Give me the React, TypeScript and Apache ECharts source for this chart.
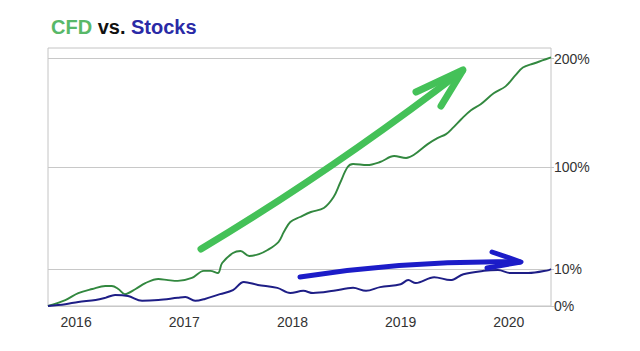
import React, { useEffect, useRef } from "react";
import * as echarts from "echarts";

// Decimal-year positions and percentage returns
const cfdYears = [
  2015.74, 2015.9, 2016.02, 2016.15, 2016.27, 2016.33, 2016.39, 2016.45, 2016.55, 2016.64,
  2016.76, 2016.85, 2016.94, 2017.07, 2017.18, 2017.24, 2017.31, 2017.35, 2017.45, 2017.52,
  2017.6, 2017.69, 2017.77, 2017.87, 2017.92, 2017.98, 2018.07, 2018.17, 2018.29, 2018.38,
  2018.44, 2018.51, 2018.56, 2018.69, 2018.81, 2018.94, 2019.05, 2019.12, 2019.25, 2019.34,
  2019.42, 2019.48, 2019.56, 2019.65, 2019.74, 2019.86, 2019.97, 2020.06, 2020.13, 2020.23,
  2020.31, 2020.39,
];
const cfdValues = [
  0, 1.6, 3.5, 4.6, 5.4, 5.4, 4.6, 3.2, 4.6, 6.2,
  7.3, 7.0, 6.8, 7.6, 9.5, 9.5, 8.9, 15.3, 24.1, 25.9,
  21.5, 23.2, 26.8, 33.8, 42.6, 51.5, 55.9, 60.3, 63.8, 73.5,
  85.9, 100, 102.8, 101.8, 104.6, 110.1, 108.3, 111, 121.1, 126.6,
  130.3, 135.8, 144, 152.3, 157.8, 167.9, 174.3, 184.4, 191.7, 195.4,
  198.2, 201,
];
const stockYears = [
  2015.74, 2015.9, 2016.02, 2016.18, 2016.27, 2016.36, 2016.48, 2016.61, 2016.76, 2016.94,
  2017.01, 2017.1, 2017.19, 2017.33, 2017.45, 2017.55, 2017.68, 2017.86, 2017.98, 2018.1,
  2018.19, 2018.38, 2018.56, 2018.68, 2018.81, 2019.0, 2019.07, 2019.14, 2019.31, 2019.46,
  2019.58, 2019.77, 2019.9, 2020.02, 2020.18, 2020.37, 2020.39,
];
const stockValues = [
  0, 0.5, 1.1, 1.6, 2.2, 3.0, 2.7, 1.4, 1.6, 2.2,
  2.4, 1.4, 1.9, 3.2, 4.3, 6.5, 5.7, 4.9, 3.5, 4.1,
  3.5, 4.1, 4.9, 4.1, 5.1, 5.9, 7.0, 6.2, 7.8, 7.0,
  8.6, 9.5, 9.7, 8.9, 8.9, 9.7, 10,
];
const yearTicks = [2016, 2017, 2018, 2019, 2020];
const pctTicks = [0, 10, 100, 200];

// The chart's y axis is a non-uniform scale: each tick gets its own span
const pctAxisPos = [0, 37, 139, 247.5];
const AXIS_MAX = 258;

function toAxis(p: number): number {
  for (let i = 1; i < pctTicks.length; i++) {
    if (p <= pctTicks[i] || i === pctTicks.length - 1) {
      const a = pctTicks[i - 1], b = pctTicks[i];
      const pa = pctAxisPos[i - 1], pb = pctAxisPos[i];
      return pa + ((p - a) / (b - a)) * (pb - pa);
    }
  }
  return 0;
}

const FONT = 'Arial, "Liberation Sans", sans-serif';

export default function App() {
  const ref = useRef<HTMLDivElement>(null);
  useEffect(() => {
    if (!ref.current) return;
    const chart = echarts.init(ref.current, null, { renderer: "svg" });
    const tickPos = pctTicks.map(toAxis);
    chart.setOption({
      animation: false,
      backgroundColor: "#fff",
      title: {
        text: "{g|CFD} {k|vs.} {b|Stocks}",
        left: 46,
        top: 12,
        textStyle: {
          fontFamily: FONT,
          fontSize: 20,
          fontWeight: "bold",
          rich: {
            g: { color: "#58b868", fontSize: 20, fontWeight: "bold", fontFamily: FONT },
            k: { color: "#111", fontSize: 20, fontWeight: "bold", fontFamily: FONT },
            b: { color: "#2a2aa6", fontSize: 20, fontWeight: "bold", fontFamily: FONT },
          },
        },
      },
      grid: {
        left: 48,
        right: 89,
        top: 48,
        bottom: 45,
        show: true,
        borderColor: "#c4c4c4",
        borderWidth: 1,
        backgroundColor: "transparent",
      },
      xAxis: {
        type: "value",
        min: cfdYears[0],
        max: cfdYears[cfdYears.length - 1],
        axisLine: { show: false },
        axisTick: { show: false },
        splitLine: { show: false },
        axisLabel: {
          customValues: yearTicks,
          formatter: (v: number) => String(Math.round(v)),
          color: "#333",
          fontSize: 14,
          fontFamily: FONT,
          margin: 9,
        },
      },
      yAxis: {
        type: "value",
        position: "right",
        min: 0,
        max: AXIS_MAX,
        axisLine: { show: false },
        axisTick: { show: true, customValues: tickPos, length: 3, lineStyle: { color: "#c4c4c4" } },
        splitLine: { show: true, lineStyle: { color: "#c8c8c8", width: 1 } },
        axisLabel: {
          customValues: tickPos,
          formatter: (v: number) => {
            const i = tickPos.findIndex((t) => Math.abs(t - v) < 0.01);
            return i >= 0 ? pctTicks[i] + "%" : "";
          },
          color: "#333",
          fontSize: 14,
          fontFamily: FONT,
          margin: 3,
        },
      },
      series: [
        {
          name: "CFD",
          type: "line",
          smooth: 0.35,
          showSymbol: false,
          data: cfdYears.map((x, i) => [x, toAxis(cfdValues[i])]),
          lineStyle: { color: "#32883f", width: 1.9 },
          z: 3,
        },
        {
          name: "Stocks",
          type: "line",
          smooth: 0.35,
          showSymbol: false,
          data: stockYears.map((x, i) => [x, toAxis(stockValues[i])]),
          lineStyle: { color: "#1e1e86", width: 2 },
          z: 3,
        },
      ],
      graphic: [
        {
          type: "bezierCurve",
          shape: { x1: 201, y1: 249, cpx1: 330, cpy1: 172, x2: 462, y2: 71 },
          style: { stroke: "#44c158", lineWidth: 7, lineCap: "round", fill: null },
          z: 10,
        },
        {
          type: "polyline",
          shape: { points: [[416, 92], [463, 70], [441, 106]] },
          style: { stroke: "#44c158", lineWidth: 7, lineCap: "round", lineJoin: "round", fill: null },
          z: 10,
        },
        {
          type: "bezierCurve",
          shape: { x1: 300, y1: 277, cpx1: 410, cpy1: 260, x2: 520, y2: 262 },
          style: { stroke: "#1c1cc8", lineWidth: 5, lineCap: "round", fill: null },
          z: 10,
        },
        {
          type: "polyline",
          shape: { points: [[492, 252], [521, 262], [487, 268]] },
          style: { stroke: "#1c1cc8", lineWidth: 5, lineCap: "round", lineJoin: "round", fill: null },
          z: 10,
        },
      ],
    });
    return () => chart.dispose();
  }, []);
  return (
    <div
      ref={ref}
      style={{ position: "fixed", left: 0, top: 0, width: 640, height: 351 }}
    />
  );
}
